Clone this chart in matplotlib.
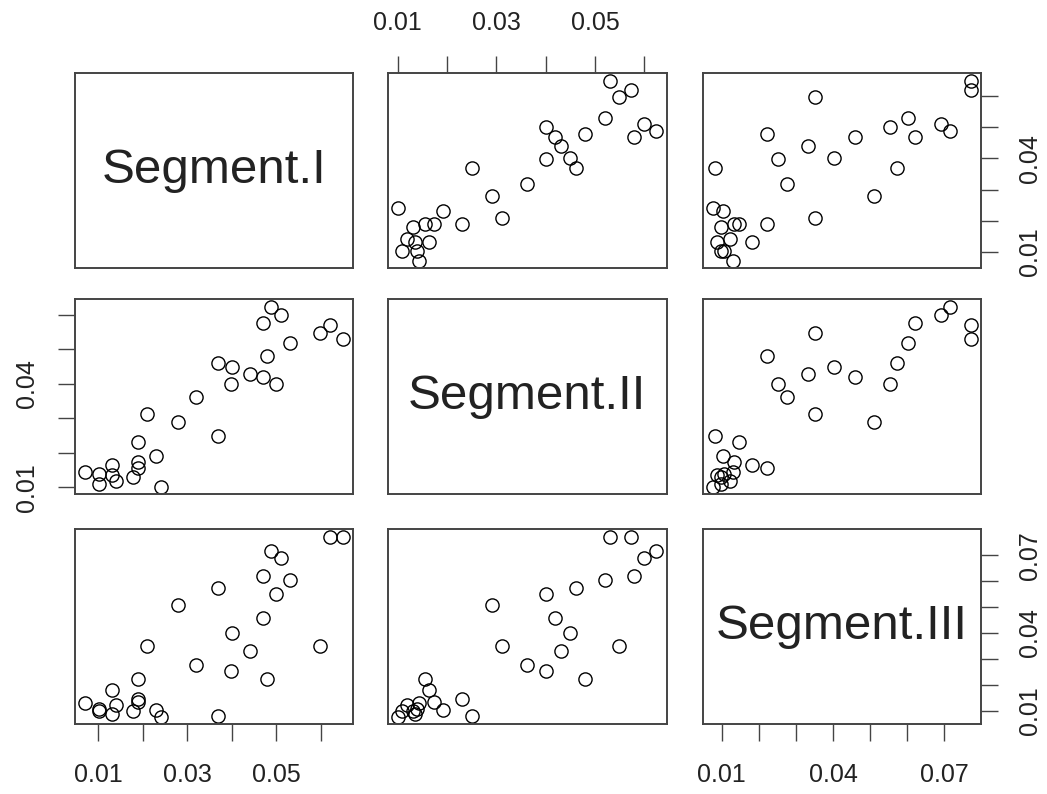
import numpy as np
import matplotlib.pyplot as plt

plt.rcParams['font.family'] = ['Liberation Sans', 'DejaVu Sans']

seg1 = [0.0489, 0.0510, 0.0621, 0.0650, 0.0599, 0.0530, 0.0470, 0.0470, 0.0480, 0.0440,
        0.0500, 0.0400, 0.0399, 0.0369, 0.0369, 0.0319, 0.0280, 0.0209, 0.0190, 0.0190,
        0.0190, 0.0130, 0.0130, 0.0071, 0.0101, 0.0101, 0.0141, 0.0179, 0.0241, 0.0230]
seg2 = [0.0624, 0.0599, 0.0572, 0.0530, 0.0549, 0.0520, 0.0578, 0.0419, 0.0480, 0.0430,
        0.0400, 0.0450, 0.0400, 0.0461, 0.0250, 0.0361, 0.0290, 0.0311, 0.0231, 0.0174,
        0.0155, 0.0164, 0.0134, 0.0143, 0.0139, 0.0109, 0.0118, 0.0130, 0.0101, 0.0191]
seg3 = [0.0715, 0.0690, 0.0772, 0.0772, 0.0350, 0.0603, 0.0622, 0.0460, 0.0222, 0.0331,
        0.0552, 0.0402, 0.0252, 0.0572, 0.0081, 0.0277, 0.0510, 0.0350, 0.0145, 0.0133,
        0.0222, 0.0181, 0.0087, 0.0131, 0.0107, 0.0098, 0.0123, 0.0098, 0.0077, 0.0103]
names = ['Segment.I', 'Segment.II', 'Segment.III']

ticks = [[0.01, 0.02, 0.03, 0.04, 0.05, 0.06],
         [0.01, 0.02, 0.03, 0.04, 0.05, 0.06],
         [0.01, 0.02, 0.03, 0.04, 0.05, 0.06, 0.07]]
# horizontal axes (bottom / top) and vertical axes (left / right) keep different labels
xlabels = [['0.01', '', '0.03', '', '0.05', ''],
           ['0.01', '', '0.03', '', '0.05', ''],
           ['0.01', '', '', '0.04', '', '', '0.07']]
ylabels = [['0.01', '', '', '0.04', '', ''],
           ['0.01', '', '', '0.04', '', ''],
           ['0.01', '', '', '0.04', '', '', '0.07']]

data = [np.array(seg1), np.array(seg2), np.array(seg3)]
lims = []
for d in data:
    r = d.max() - d.min()
    lims.append((d.min() - 0.04 * r, d.max() + 0.04 * r))

fig = plt.figure(figsize=(10.47, 7.94), dpi=100)
lefts = [0.0716, 0.3706, 0.6714]
bottoms = [0.6625, 0.3778, 0.0882]
w, h = 0.266, 0.245
ink = '#222222'

for i in range(3):
    for j in range(3):
        ax = fig.add_axes([lefts[j], bottoms[i], w, h])
        if i == j:
            ax.text(0.5, 0.5, names[i], ha='center', va='center', fontsize=35.5,
                    color=ink, transform=ax.transAxes)
        else:
            ax.plot(data[j], data[i], 'o', mfc='none', mec='black', ms=9.5, mew=1.0)
        ax.set_xlim(lims[j])
        ax.set_ylim(lims[i] if i != j else lims[j])
        for s in ax.spines.values():
            s.set_color('#444444')
            s.set_linewidth(1.4)
        ax.tick_params(which='both', top=False, bottom=False, left=False, right=False,
                       labeltop=False, labelbottom=False, labelleft=False, labelright=False,
                       length=12, width=1.0, color='#444444',
                       labelsize=18, labelcolor=ink)
        ax.tick_params(axis='x', pad=16)
        ax.tick_params(axis='y', pad=14)
        ax.set_xticks(ticks[j], xlabels[j])
        ax.set_yticks(ticks[i], ylabels[i])

        # R pairs() style: alternate the sides on which axes are drawn
        if i == 0 and j % 2 == 1:
            ax.tick_params(axis='x', top=True, labeltop=True)
        if i == 2 and j % 2 == 0:
            ax.tick_params(axis='x', bottom=True, labelbottom=True)
        if j == 0 and i % 2 == 1:
            ax.tick_params(axis='y', left=True, labelleft=True)
        if j == 2 and i % 2 == 0:
            ax.tick_params(axis='y', right=True, labelright=True)
        for lab in ax.get_yticklabels():
            lab.set_rotation(90)
            lab.set_va('center')

fig.savefig('out.png', dpi=100)
